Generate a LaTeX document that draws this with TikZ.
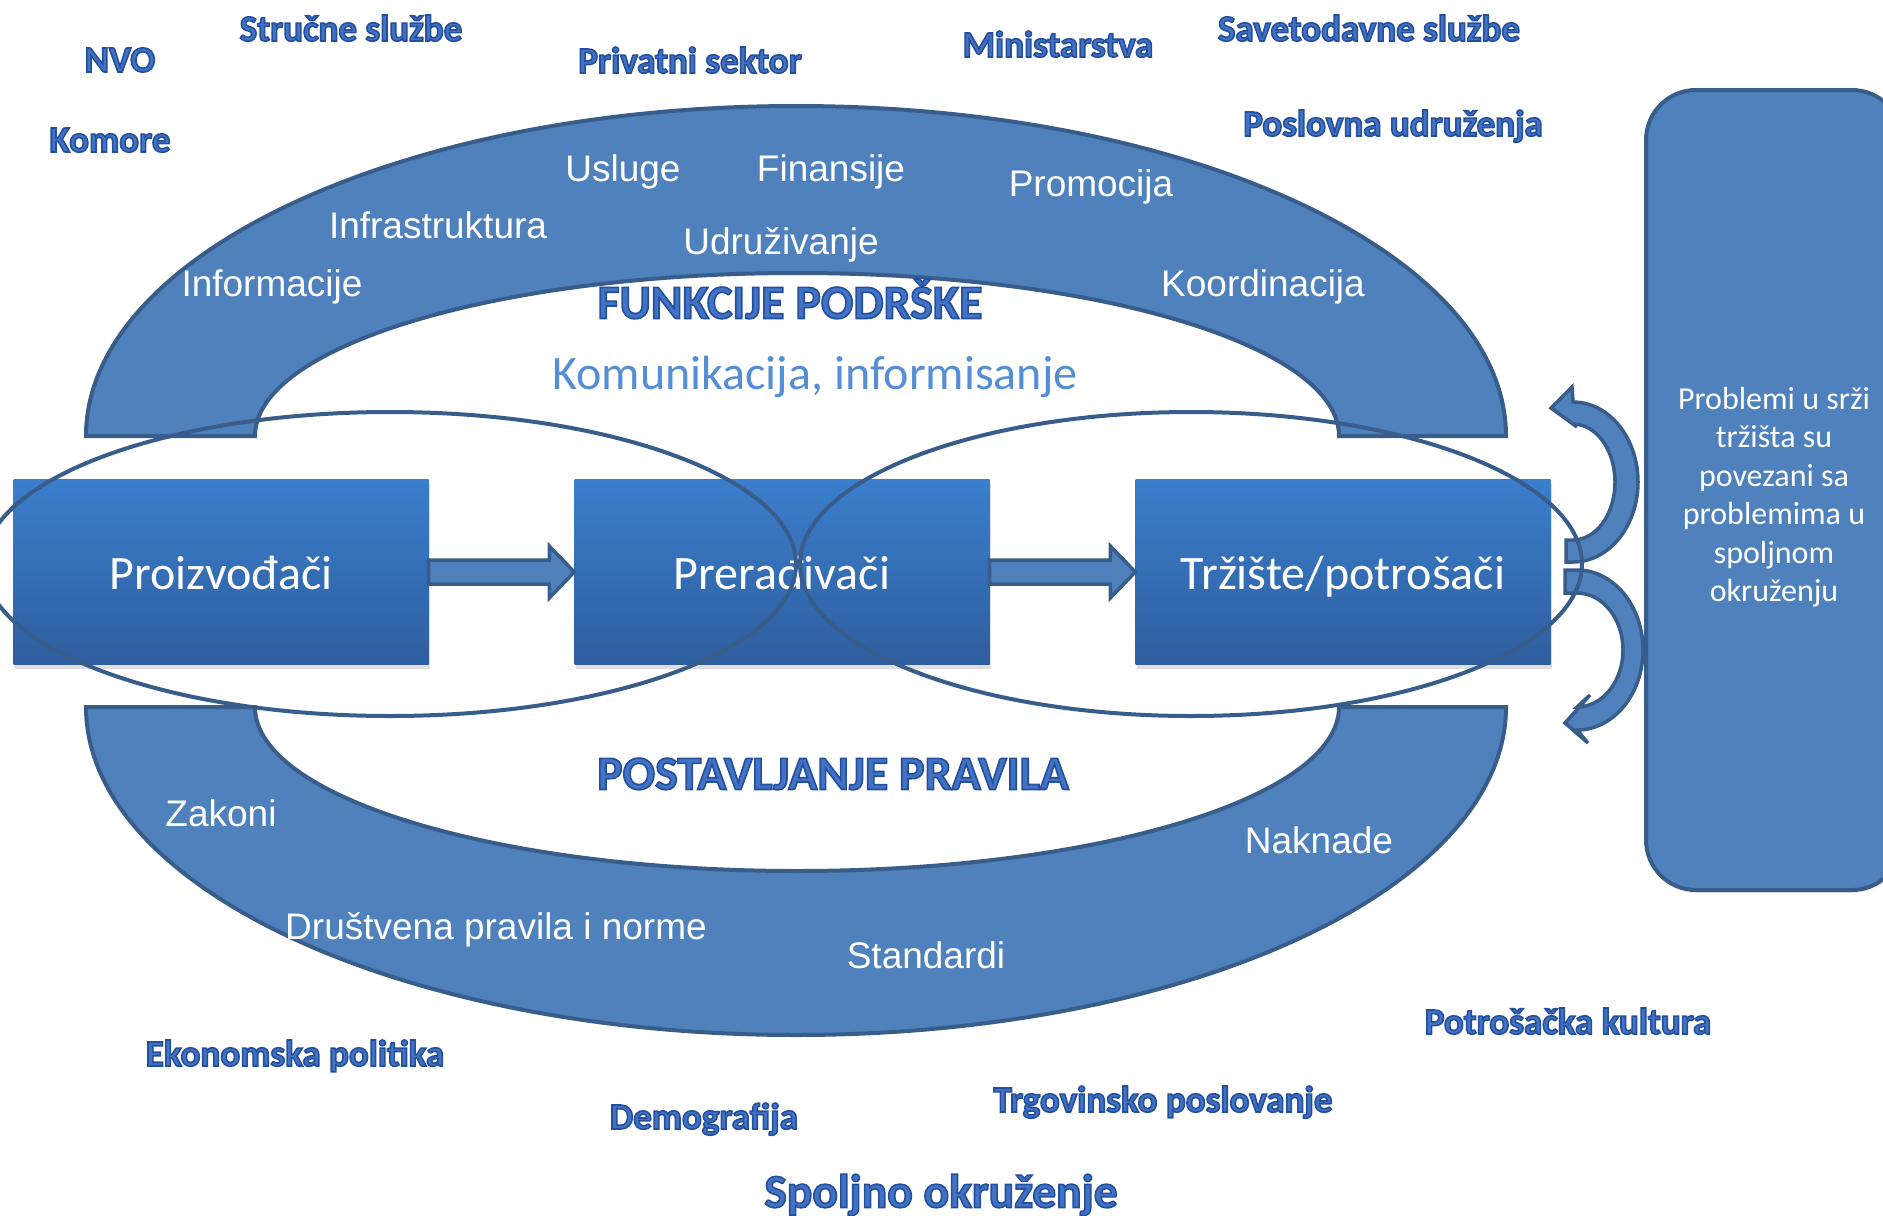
\documentclass[tikz,border=0pt]{standalone}
\usepackage{fontspec}
\setmainfont{Carlito}
\newfontfamily\arialfont{Liberation Sans}
\usetikzlibrary{calc,shadows}

\definecolor{archfill}{RGB}{79,129,189}
\definecolor{archline}{RGB}{56,93,138}
\definecolor{boxtop}{RGB}{59,126,204}
\definecolor{boxbot}{RGB}{46,94,158}
\definecolor{commblue}{RGB}{85,142,213}
\definecolor{wafill}{RGB}{66,114,196}

% outlined bold labels: fill plus dark stroke
\newcommand\wa[1]{\special{pdf:literal 2 Tr 1.6 w 0.14 0.31 0.61 RG}#1\special{pdf:literal 0 Tr}}

% block arrow between two boxes
\newcommand\blockarrow[2]{%
  \draw[blockarr] ($(#1.east)+(0,12)$) -- ($(#2.west)+(-25,12)$) -- ($(#2.west)+(-25,26)$)
    -- (#2.west) -- ($(#2.west)+(-25,-26)$) -- ($(#2.west)+(-25,-12)$) -- ($(#1.east)+(0,-12)$) -- cycle;}

\tikzset{
  arch/.style={fill=archfill, draw=archline, line width=4pt},
  ring/.style={draw=archline, line width=4pt},
  blockarr/.style={fill=archfill, draw=archline, line width=3.5pt, line join=miter},
  bent/.style={fill=archfill, draw=archline, line width=3.5pt},
  chain/.style={minimum width=415pt, minimum height=185pt, inner sep=0pt,
    top color=boxtop, bottom color=boxbot, text=white,
    font=\fontsize{48}{58}\selectfont, text height=35pt, text depth=0pt,
    drop shadow={shadow xshift=1pt, shadow yshift=-4pt, opacity=.25}},
  envbox/.style={minimum width=256pt, minimum height=800pt, rounded corners=50pt,
    fill=archfill, draw=archline, line width=4pt,
    drop shadow={shadow xshift=0pt, shadow yshift=-3pt, opacity=.2}},
  envtext/.style={text=white, align=center, font=\fontsize{32}{38.5}\selectfont},
  item/.style={text=white, font=\arialfont\fontsize{37}{44}\selectfont,
    text height=26.5pt, text depth=0pt, inner sep=0pt},
  outer/.style={text=wafill, font=\bfseries\fontsize{37}{44}\selectfont,
    text height=24pt, text depth=0pt, inner sep=0pt},
  title/.style={outer, font=\bfseries\fontsize{48}{57}\selectfont, text height=31pt},
}

\begin{document}
\begin{tikzpicture}[x=1pt, y=-1pt]
\useasboundingbox (0,0) rectangle (1883,1216);
\clip (0,0) rectangle (1883,1216);

% support and rules arches
\path[arch] (86,436) arc[start angle=180, end angle=0, x radius=710pt, y radius=330pt]
  -- (1339,436) arc[start angle=0, end angle=180, x radius=542pt, y radius=163pt] -- cycle;
\path[arch] (86,707) arc[start angle=180, end angle=360, x radius=710pt, y radius=328pt]
  -- (1339,707) arc[start angle=0, end angle=-180, x radius=542pt, y radius=164pt] -- cycle;

% value chain
\node[chain] (prod) at (221,572) {Proizvođači};
\node[chain] (proc) at (782,572) {Prerađivači};
\node[chain] (mkt) at (1343,572) {Tržište/potrošači};
\blockarrow{prod}{proc}
\blockarrow{proc}{mkt}

% environment box
\node[envbox] (env) at (1774,490) {};
\node[envtext] (envlabel) at (1774,497) {Problemi u srži\\tržišta su\\povezani sa\\problemima u\\spoljnom\\okruženju};

% curved arrows
\path[bent] (1566,562) -- (1573,562) arc[start angle=-90, end angle=90, x radius=65pt, y radius=80pt]
  -- (1572,387) -- (1551,408) -- (1577,427) -- (1573,424)
  arc[start angle=90, end angle=-90, x radius=42pt, y radius=58pt] -- (1566,540) -- cycle;
\path[bent] (1565,570) -- (1577,570) arc[start angle=90, end angle=-90, x radius=66pt, y radius=80pt]
  -- (1588,743) -- (1565,723) -- (1590,695) -- (1577,707)
  arc[start angle=-90, end angle=90, x radius=46pt, y radius=57pt] -- (1565,593) -- cycle;

% overlapping rings
\draw[ring] (390,564) ellipse[x radius=406pt, y radius=152pt];
\draw[ring] (1191,564) ellipse[x radius=391pt, y radius=152pt];

% support functions
\node[item] (usl) at (623,168) {Usluge};
\node[item] (fin) at (831,168) {Finansije};
\node[item] (prom) at (1091,183) {Promocija};
\node[item] (infra) at (438,225) {Infrastruktura};
\node[item] (udr) at (781,241) {Udruživanje};
\node[item] (info) at (272,283) {Informacije};
\node[item] (koord) at (1263,283) {Koordinacija};
\node[title] (funk) at (790,303) {\wa{FUNKCIJE PODRŠKE}};
\node[text=commblue, font=\fontsize{48}{58}\selectfont, text height=31pt, text depth=0pt, inner sep=0pt]
  (comm) at (815,374) {Komunikacija, informisanje};

% rules
\node[title] (post) at (833,774) {\wa{POSTAVLJANJE PRAVILA}};
\node[item] (zak) at (221,813) {Zakoni};
\node[item] (nakn) at (1319,840) {Naknade};
\node[item] (drus) at (496,926) {Društvena pravila i norme};
\node[item] (stand) at (926,955) {Standardi};

% actors and environment
\node[outer] (nvo) at (120,60) {\wa{NVO}};
\node[outer] (struc) at (351,29) {\wa{Stručne službe}};
\node[outer] (priv) at (690,61) {\wa{Privatni sektor}};
\node[outer] (minis) at (1058,45) {\wa{Ministarstva}};
\node[outer] (savet) at (1369,29) {\wa{Savetodavne službe}};
\node[outer] (komore) at (110,140) {\wa{Komore}};
\node[outer] (posl) at (1393,124) {\wa{Poslovna udruženja}};
\node[outer] (potr) at (1568,1022) {\wa{Potrošačka kultura}};
\node[outer] (ekon) at (295,1054) {\wa{Ekonomska politika}};
\node[outer] (trg) at (1163,1100) {\wa{Trgovinsko poslovanje}};
\node[outer] (demo) at (704,1117) {\wa{Demografija}};
\node[title, font=\bfseries\fontsize{47.5}{56}\selectfont] (spolj) at (941,1192) {\wa{Spoljno okruženje}};
\end{tikzpicture}
\end{document}
